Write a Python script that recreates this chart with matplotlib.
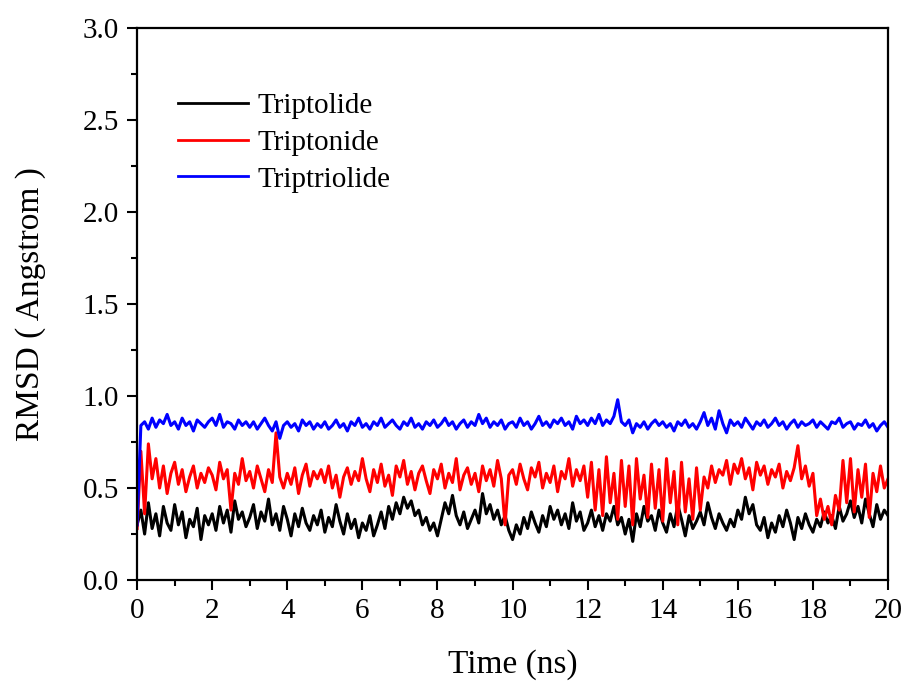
import numpy as np
import matplotlib
matplotlib.use("Agg")
import matplotlib.pyplot as plt
from matplotlib.ticker import MultipleLocator

plt.rcParams['font.family'] = ['Liberation Serif', 'DejaVu Serif']

time_ns = np.round(np.arange(201) * 0.1, 1)

triptolide = [
    0.30, 0.38, 0.25, 0.42, 0.28, 0.36, 0.24, 0.40, 0.31, 0.27,
    0.41, 0.30, 0.37, 0.23, 0.33, 0.29, 0.39, 0.22, 0.35, 0.30,
    0.36, 0.27, 0.40, 0.31, 0.38, 0.26, 0.43, 0.33, 0.37, 0.29,
    0.34, 0.41, 0.28, 0.37, 0.32, 0.44, 0.30, 0.36, 0.27, 0.40,
    0.33, 0.24, 0.36, 0.29, 0.39, 0.31, 0.27, 0.35, 0.30, 0.38,
    0.26, 0.34, 0.29, 0.41, 0.32, 0.25, 0.36, 0.28, 0.33, 0.23,
    0.31, 0.27, 0.35, 0.24, 0.30, 0.37, 0.28, 0.40, 0.33, 0.42,
    0.36, 0.45, 0.39, 0.43, 0.35, 0.38, 0.30, 0.34, 0.27, 0.31,
    0.24, 0.33, 0.42, 0.36, 0.46, 0.35, 0.30, 0.37, 0.28, 0.33,
    0.38, 0.31, 0.47, 0.36, 0.41, 0.33, 0.38, 0.30, 0.35, 0.27,
    0.22, 0.30, 0.25, 0.34, 0.28, 0.37, 0.31, 0.26, 0.35, 0.29,
    0.40, 0.33, 0.38, 0.30, 0.36, 0.28, 0.42, 0.32, 0.37, 0.27,
    0.31, 0.38, 0.29, 0.35, 0.27, 0.36, 0.32, 0.40, 0.30, 0.34,
    0.25, 0.33, 0.21, 0.36, 0.29, 0.40, 0.32, 0.35, 0.27, 0.38,
    0.31, 0.26, 0.36, 0.29, 0.41, 0.33, 0.24, 0.35, 0.28, 0.32,
    0.37, 0.30, 0.42, 0.34, 0.28, 0.36, 0.31, 0.27, 0.33, 0.29,
    0.38, 0.33, 0.45, 0.36, 0.41, 0.30, 0.27, 0.34, 0.23, 0.31,
    0.26, 0.35, 0.29, 0.38, 0.31, 0.22, 0.34, 0.28, 0.36, 0.30,
    0.26, 0.33, 0.29, 0.37, 0.31, 0.35, 0.28, 0.40, 0.32, 0.36,
    0.43, 0.34, 0.40, 0.31, 0.44, 0.36, 0.29, 0.41, 0.33, 0.38, 0.35,
]

triptonide = [
    0.28, 0.70, 0.36, 0.74, 0.55, 0.66, 0.50, 0.62, 0.47, 0.58,
    0.64, 0.52, 0.60, 0.48, 0.56, 0.62, 0.50, 0.58, 0.53, 0.61,
    0.57, 0.49, 0.64, 0.55, 0.60, 0.38, 0.58, 0.52, 0.66, 0.54,
    0.59, 0.50, 0.62, 0.55, 0.48, 0.60, 0.53, 0.80, 0.56, 0.50,
    0.58, 0.52, 0.61, 0.47, 0.57, 0.63, 0.51, 0.59, 0.55, 0.60,
    0.53, 0.62, 0.50, 0.57, 0.45, 0.56, 0.61, 0.52, 0.59, 0.54,
    0.66, 0.55, 0.48, 0.60, 0.53, 0.63, 0.51, 0.57, 0.46, 0.62,
    0.56, 0.65, 0.52, 0.59, 0.49, 0.58, 0.62, 0.54, 0.47, 0.60,
    0.55, 0.63, 0.50, 0.58, 0.53, 0.66, 0.49, 0.57, 0.61, 0.52,
    0.58, 0.48, 0.62, 0.54, 0.60, 0.51, 0.65, 0.55, 0.30, 0.57,
    0.60, 0.52, 0.63, 0.55, 0.49, 0.61, 0.56, 0.64, 0.50, 0.58,
    0.53, 0.62, 0.48, 0.59, 0.55, 0.66, 0.51, 0.60, 0.54, 0.62,
    0.45, 0.64, 0.38, 0.60, 0.35, 0.67, 0.42, 0.58, 0.33, 0.65,
    0.40, 0.62, 0.30, 0.66, 0.44, 0.57, 0.34, 0.63, 0.39, 0.60,
    0.32, 0.66, 0.42, 0.59, 0.30, 0.64, 0.37, 0.55, 0.33, 0.61,
    0.38, 0.56, 0.50, 0.62, 0.53, 0.60, 0.57, 0.65, 0.52, 0.63,
    0.58, 0.66, 0.55, 0.61, 0.49, 0.64, 0.57, 0.62, 0.52, 0.60,
    0.56, 0.63, 0.50, 0.59, 0.54, 0.61, 0.73, 0.55, 0.62, 0.51,
    0.58, 0.35, 0.44, 0.33, 0.40, 0.30, 0.46, 0.38, 0.65, 0.42,
    0.66, 0.37, 0.60, 0.45, 0.63, 0.34, 0.58, 0.48, 0.62, 0.50, 0.55,
]

triptriolide = [
    0.30, 0.84, 0.86, 0.82, 0.88, 0.83, 0.87, 0.85, 0.90, 0.84,
    0.86, 0.82, 0.88, 0.84, 0.86, 0.81, 0.87, 0.85, 0.83, 0.86,
    0.88, 0.84, 0.90, 0.83, 0.86, 0.85, 0.82, 0.87, 0.84, 0.86,
    0.83, 0.86, 0.82, 0.85, 0.88, 0.84, 0.81, 0.86, 0.77, 0.84,
    0.86, 0.83, 0.85, 0.81, 0.87, 0.84, 0.86, 0.82, 0.85, 0.83,
    0.86, 0.82, 0.84, 0.87, 0.83, 0.85, 0.81, 0.86, 0.84, 0.88,
    0.83, 0.85, 0.82, 0.86, 0.84, 0.88, 0.83, 0.85, 0.87, 0.84,
    0.82, 0.86, 0.84, 0.88, 0.83, 0.85, 0.82, 0.86, 0.84, 0.87,
    0.83, 0.85, 0.88, 0.84, 0.86, 0.82, 0.85, 0.87, 0.83, 0.86,
    0.84, 0.90, 0.85, 0.88, 0.83, 0.86, 0.84, 0.87, 0.82, 0.85,
    0.86, 0.83, 0.88, 0.84, 0.86, 0.82, 0.85, 0.89, 0.84, 0.86,
    0.83, 0.87, 0.85, 0.88, 0.84, 0.86, 0.82, 0.89, 0.85, 0.87,
    0.84, 0.88, 0.85, 0.90, 0.84, 0.87, 0.85, 0.89, 0.98, 0.86,
    0.84, 0.87, 0.80, 0.85, 0.83, 0.86, 0.82, 0.85, 0.87, 0.84,
    0.86, 0.83, 0.85, 0.81, 0.86, 0.84, 0.87, 0.83, 0.85, 0.82,
    0.86, 0.91, 0.84, 0.88, 0.82, 0.92, 0.85, 0.80, 0.87, 0.84,
    0.86, 0.83, 0.88, 0.85, 0.82, 0.86, 0.84, 0.87, 0.83, 0.85,
    0.88, 0.84, 0.86, 0.82, 0.85, 0.87, 0.83, 0.86, 0.84, 0.85,
    0.87, 0.83, 0.86, 0.84, 0.82, 0.86, 0.85, 0.88, 0.83, 0.85,
    0.86, 0.82, 0.85, 0.84, 0.87, 0.83, 0.85, 0.81, 0.84, 0.86, 0.83,
]

series_names = ["Triptolide", "Triptonide", "Triptriolide"]
series_colors = ["black", "red", "blue"]

fig = plt.figure(figsize=(9.08, 6.84), dpi=100)
ax = fig.add_axes([0.151, 0.152, 0.827, 0.807])

for vals, name, col in zip([triptolide, triptonide, triptriolide], series_names, series_colors):
    ax.plot(time_ns, vals, color=col, lw=2.2, label=name)

ax.set_xlim(0, 20)
ax.set_ylim(0, 3.0)
ax.xaxis.set_major_locator(MultipleLocator(2))
ax.xaxis.set_minor_locator(MultipleLocator(1))
ax.yaxis.set_major_locator(MultipleLocator(0.5))
ax.yaxis.set_minor_locator(MultipleLocator(0.25))
ax.yaxis.set_major_formatter(matplotlib.ticker.FormatStrFormatter('%.1f'))
ax.tick_params(which='major', direction='out', length=7, width=1.5, labelsize=21, pad=6,
               top=False, right=False)
ax.tick_params(which='minor', direction='out', length=4, width=1.5, top=False, right=False)
for s in ax.spines.values():
    s.set_linewidth(1.6)

ax.set_xlabel("Time (ns)", fontsize=24, labelpad=18)
ax.set_ylabel("RMSD ( Angstrom )", fontsize=24, labelpad=26)

leg = ax.legend(loc='upper left', bbox_to_anchor=(0.02, 0.93), frameon=False, fontsize=21,
                handlelength=2.4, handletextpad=0.3, labelspacing=0.35)
for h in leg.get_lines():
    h.set_linewidth(2.0)

fig.savefig("out.png", dpi=100)
